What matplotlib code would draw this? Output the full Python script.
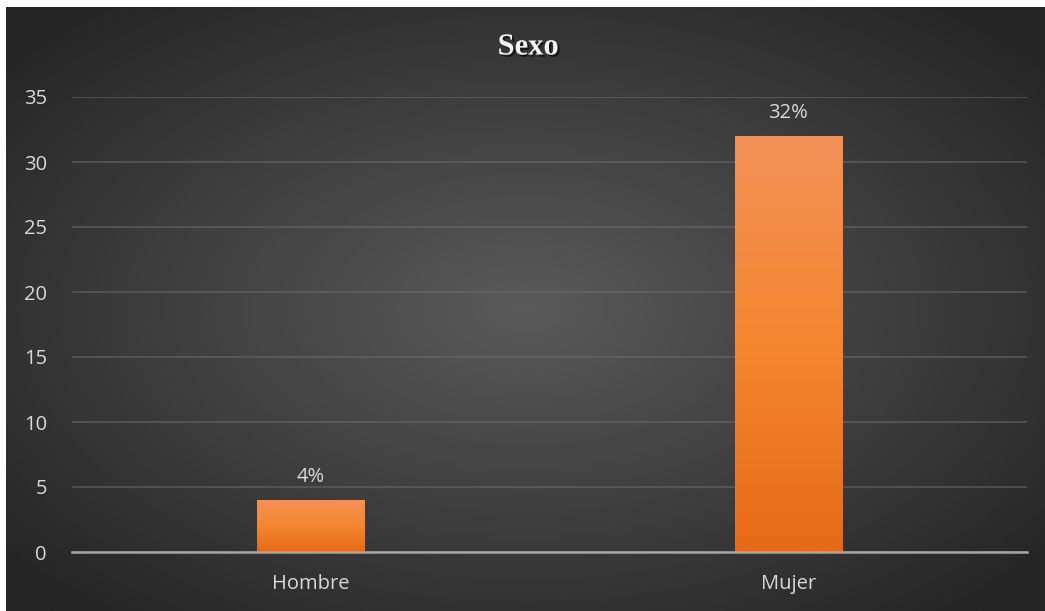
import matplotlib.pyplot as plt
import numpy as np
from matplotlib.colors import LinearSegmentedColormap
import matplotlib.patheffects as pe

categorias = ["Hombre", "Mujer"]
valores = [4, 32]
etiquetas = ["4%", "32%"]
ticks_y = [0, 5, 10, 15, 20, 25, 30, 35]

W, H = 1045, 611
fig = plt.figure(figsize=(W / 100, H / 100), dpi=100, facecolor="white")

# fondo con degradado radial (gris claro en el centro, oscuro en los bordes)
x0, y0 = 6, 7
fondo = fig.add_axes([x0 / W, 0, (W - x0) / W, (H - y0) / H])
fondo.set_axis_off()
gx, gy = np.meshgrid(np.linspace(-1, 1, 400), np.linspace(-1, 1, 240))
r = np.clip(np.sqrt(gx ** 2 + gy ** 2) / 1.3, 0, 1)
cmap_fondo = LinearSegmentedColormap.from_list("fondo", ["#5a5a5a", "#262626"])
fondo.imshow(r, cmap=cmap_fondo, aspect="auto", extent=[0, 1, 0, 1], vmin=0, vmax=1)
fondo.set_xlim(0, 1)
fondo.set_ylim(0, 1)

# area del grafico
left, right = 72, 1027
bottom, top = 552, 97
ax = fig.add_axes([left / W, 1 - bottom / H, (right - left) / W, (bottom - top) / H])
ax.set_facecolor("none")
ax.set_xlim(-0.5, 1.5)
ax.set_ylim(0, 35)

cmap_barra = LinearSegmentedColormap.from_list("barra", ["#e56a18", "#f5862f", "#f39158"])
x = np.arange(len(categorias))
ancho = 0.225
barras = ax.bar(x, valores, width=ancho, color="none", zorder=3)
grad = np.linspace(0, 1, 256).reshape(-1, 1)
for b in barras:
    bx, by = b.get_x(), b.get_y()
    ax.imshow(grad, cmap=cmap_barra, origin="lower", aspect="auto",
              extent=[bx, bx + b.get_width(), by, by + b.get_height()], zorder=3)

fuente = 14.5
for xi, v, t in zip(x, valores, etiquetas):
    ax.annotate(t, (xi, v), xytext=(0, 9), textcoords="offset points",
                ha="center", va="bottom", color="#d9d9d9", fontsize=fuente,
                family="Open Sans")

ax.set_xticks(x)
ax.set_xticklabels(categorias, color="#d9d9d9", fontsize=fuente, family="Open Sans")
ax.set_yticks(ticks_y)
ax.set_yticklabels([str(t) for t in ticks_y], color="#d9d9d9", fontsize=fuente, family="Open Sans")
ax.tick_params(length=0)
ax.tick_params(axis="x", pad=16)
ax.tick_params(axis="y", pad=18)
ax.grid(axis="y", color="#6e6e6e", alpha=0.6, linewidth=1.2, zorder=0)
for s in ["top", "right", "left"]:
    ax.spines[s].set_visible(False)
ax.spines["bottom"].set_color("#a6a6a6")
ax.spines["bottom"].set_linewidth(1.8)
ax.spines["bottom"].set_zorder(4)

fig.text(528 / W, 1 - 47 / H, "Sexo", ha="center", va="center",
         color="#f2f2f2", fontsize=22, fontweight="bold", family="Liberation Serif",
         path_effects=[pe.withSimplePatchShadow(offset=(1.5, -1.5), shadow_rgbFace="black", alpha=0.6)])

fig.savefig("out.png", dpi=100, facecolor="white")
